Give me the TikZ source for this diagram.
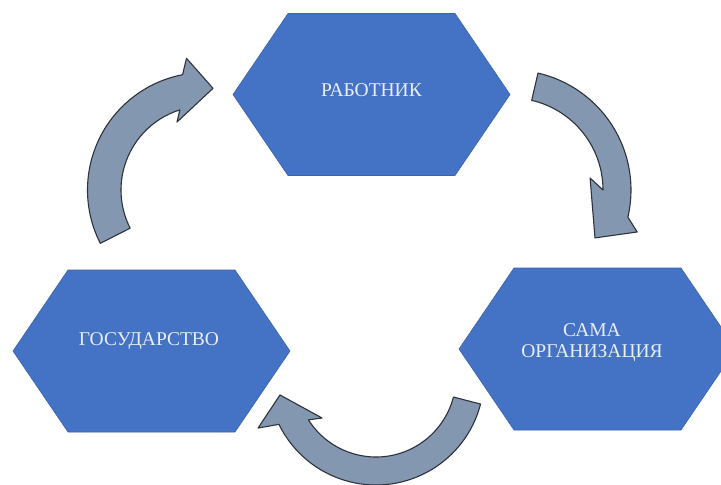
\documentclass[tikz,border=0pt]{standalone}
\usepackage{fontspec}
\setmainfont{Liberation Serif}

\definecolor{hexblue}{RGB}{68,114,196}
\definecolor{hexedge}{RGB}{58,99,176}
\definecolor{arrfill}{RGB}{132,151,176}
\definecolor{arredge}{RGB}{45,50,60}
\definecolor{lbltext}{RGB}{232,238,250}

\begin{document}
\begin{tikzpicture}[x=1pt,y=-1pt,
		hexa/.style={fill=hexblue, draw=hexedge, line width=0.6pt},
		bigarrow/.style={fill=arrfill, draw=arredge, line width=1.1pt, line join=round},
		lbl/.style={text=lbltext, font=\fontsize{19.5}{21}\selectfont, align=center, inner sep=0pt}]
		\clip (0,0) rectangle (721,485);
		\fill[white] (0,0) rectangle (721,485);
		% hexagons
		\foreach \cx/\cy in {371.5/94.5, 151.5/351, 597.5/349}
			\filldraw[hexa] (\cx-138.5,\cy) -- ++(55,-81) -- ++(167,0) -- ++(55,81) -- ++(-55,81) -- ++(-167,0) -- cycle;
		\node[lbl] (rabotnik) at (371.5,90) {РАБОТНИК};
		\node[lbl] (gosudarstvo) at (149,341) {ГОСУДАРСТВО};
		\node[lbl] (organizacia) at (592,343) {САМА\\ОРГАНИЗАЦИЯ};
		% curved arrows
		\begin{scope}[shift={(205,190)}]
			\filldraw[bigarrow] (153:117.5) arc[start angle=153, end angle=259, radius=117.5] -- (262:133) -- (274.5:102) -- (247.6:73.5) -- (252.6:84) arc[start angle=252.6, end angle=153, radius=84] -- cycle;
		\end{scope}
		\begin{scope}[shift={(511,190)}]
			\filldraw[bigarrow] (-77:120) arc[start angle=-77, end angle=13.1, radius=120] -- (18.4:133) -- (29.7:96.7) -- (-8.6:80) -- (0:92) arc[start angle=0, end angle=-77, radius=92] -- cycle;
		\end{scope}
		\begin{scope}[shift={(376,377)}]
			\filldraw[bigarrow] (14.5:108) arc[start angle=14.5, end angle=154, radius=108] -- (156.6:128.5) -- (169.4:97.7) -- (142.8:67.8) -- (147.6:80) arc[start angle=147.6, end angle=14.5, radius=80] -- cycle;
		\end{scope}
	\end{tikzpicture}
\end{document}
